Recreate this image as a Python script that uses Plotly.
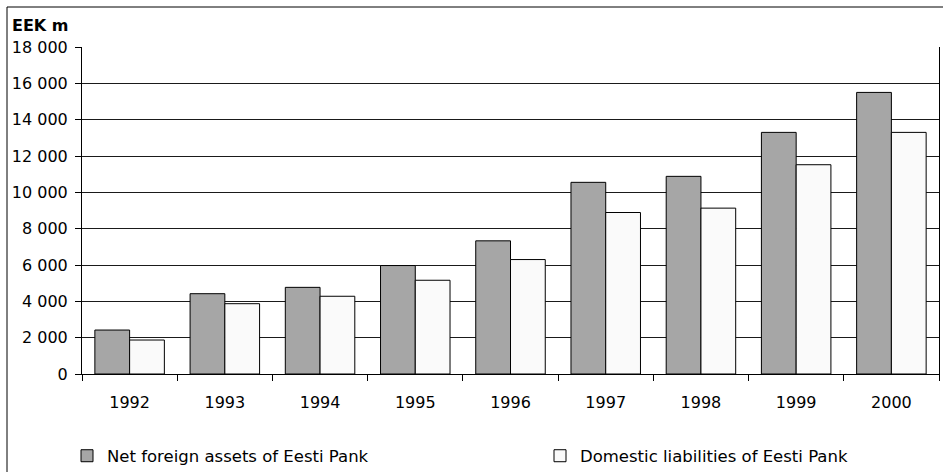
import plotly.graph_objects as go

years = ["1992", "1993", "1994", "1995", "1996", "1997", "1998", "1999", "2000"]
net_foreign = [2420, 4420, 4770, 5970, 7330, 10550, 10880, 13300, 15500]
domestic = [1870, 3870, 4280, 5160, 6300, 8890, 9130, 11520, 13300]
series_names = ["Net foreign assets of Eesti Pank", "Domestic liabilities of Eesti Pank"]
y_tickvals = [0, 2000, 4000, 6000, 8000, 10000, 12000, 14000, 16000, 18000]

W, H = 943, 472
L, R, T, B = 82, 4, 47, 98
pw, ph = W - L - R, H - T - B

def px_x(p):
    return (p - L) / pw

def px_y(p):
    return (H - B - p) / ph

FONT = "DejaVu Sans"

fig = go.Figure()
fig.add_trace(go.Bar(x=years, y=net_foreign, name=series_names[0], legend="legend",
                     marker=dict(color="#a6a6a6", line=dict(color="#000000", width=1))))
fig.add_trace(go.Bar(x=years, y=domestic, name=series_names[1], legend="legend2",
                     marker=dict(color="#fafafa", line=dict(color="#000000", width=1))))

leg_common = dict(orientation="h", xref="container", yref="container",
                  xanchor="left", yanchor="middle",
                  font=dict(family=FONT, size=16.5, color="#000000"),
                  bgcolor="rgba(0,0,0,0)", borderwidth=0)

fig.update_layout(
    width=W, height=H,
    margin=dict(l=L, r=R, t=T, b=B, pad=0),
    paper_bgcolor="white", plot_bgcolor="white",
    barmode="group", bargap=0.27, bargroupgap=0,
    separators=". ",
    font=dict(family=FONT, size=16, color="#000000"),
    showlegend=True,
    legend=dict(x=67 / W, y=(H - 456) / H, **leg_common),
    legend2=dict(x=540 / W, y=(H - 456) / H, **leg_common),
    xaxis=dict(type="category", showgrid=False, showline=True, linecolor="#000000", linewidth=1,
               ticks="outside", ticklen=6, tickcolor="#000000", tickson="boundaries",
               ticklabelstandoff=14, mirror=False, zeroline=False),
    yaxis=dict(range=[0, 18000], tickvals=y_tickvals, tickformat=",d",
               showgrid=True, gridcolor="#1a1a1a", gridwidth=1,
               showline=True, linecolor="#000000", linewidth=1, mirror=True,
               ticks="outside", ticklen=6, tickcolor="#000000",
               ticklabelstandoff=4, zeroline=False),
    shapes=[dict(type="rect", xref="paper", yref="paper",
                 x0=px_x(7), x1=px_x(960), y0=px_y(490), y1=px_y(7),
                 line=dict(color="#000000", width=1), fillcolor="rgba(0,0,0,0)", layer="above")],
    annotations=[dict(text="<b>EEK m</b>", xref="paper", yref="paper",
                      x=px_x(10), y=px_y(25), xanchor="left", yanchor="middle",
                      showarrow=False, font=dict(family=FONT, size=16, color="#000000"))],
)

fig.write_html("out.html", config={"displayModeBar": False},
               post_script="document.body.style.margin='0';document.body.style.padding='0';")
